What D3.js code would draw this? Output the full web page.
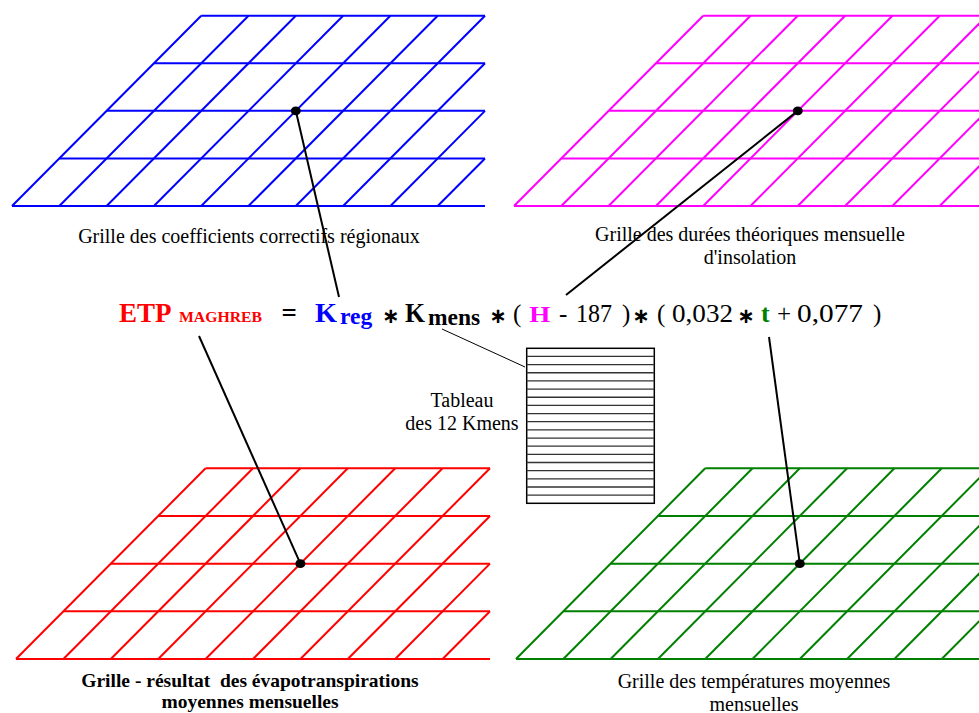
<!DOCTYPE html>
<html><head><meta charset="utf-8">
<script src="https://cdn.jsdelivr.net/npm/d3@7"></script>
<style>html,body{margin:0;padding:0;background:#fff;overflow:hidden}svg{display:block}
.serif{font-family:"Liberation Serif","Times New Roman",serif}</style>
</head><body><svg id="c" width="979" height="713"></svg>
<script>
// ---------- data ----------
const gridNames = ["Kreg", "H", "ETP", "t"];
const gridCols = 10;
const gridRows = 4;
const dotCell = [4, 2]; // column, row of the highlighted node
const captionLines = [
  ["Grille des coefficients correctifs régionaux"],
  ["Grille des durées théoriques mensuelle", "d'insolation"],
  ["Grille - résultat  des évapotranspirations", "moyennes mensuelles"],
  ["Grille des températures moyennes", "mensuelles"]
];
const formulaTokens = ["ETP","MAGHREB","=","K","reg","∗","K","mens","∗","(","H","-","187",")","∗","(","0,032","∗","t","+","0,077",")"];
const kmensRows = 19;
const tableLabel = ["Tableau", "des 12 Kmens"];

// ---------- layout / style ----------
const W = 979, H = 713;
const RED = "#ff0000", BLUE = "#0000ff", MAG = "#ff00ff", GREEN = "#008000";

const gridLayout = [
  {x0: 12,  x1: 485, yb: 206, yt: 15.7,  color: BLUE,  cap: {cx: 249, y: [242.5], size: 20, bold: false}, end: [339, 297]},
  {x0: 514, x1: 987, yb: 206, yt: 15.7,  color: MAG,   cap: {cx: 750, y: [240.7, 263.5], size: 20, bold: false}, end: [566, 295]},
  {x0: 16,  x1: 490, yb: 659, yt: 468.3, color: RED,   cap: {cx: 250, y: [686.5, 708], size: 19.5, bold: true}, end: [199, 336]},
  {x0: 516, x1: 989, yb: 659, yt: 468.3, color: GREEN, cap: {cx: 754, y: [688, 710.5], size: 20, bold: false}, end: [769, 337]}
];

const BASE = 322;
const tokStyle = [
  {x: 119,   fill: RED,  bold: true, s: 27},             // ETP
  {x: 179,   fill: RED,  bold: true, s: 14.5, len: 83},  // MAGHREB
  {x: 281.5, bold: true, s: 27},                         // =
  {x: 315,   fill: BLUE, bold: true, s: 26.5, len: 22},  // K
  {x: 340,   fill: BLUE, bold: true, s: 23.5, dy: 2},    // reg
  {ast: true, x: 390.7},
  {x: 405,   bold: true, s: 26.5, len: 20},              // K
  {x: 428,   bold: true, s: 23.5, dy: 3},                // mens
  {ast: true, x: 498},
  {x: 513,   s: 25},                                     // (
  {x: 529.3, fill: MAG, bold: true, s: 23, len: 21},     // H
  {x: 559,   s: 25},                                     // -
  {x: 576,   s: 25, len: 36},                            // 187
  {x: 622,   s: 25},                                     // )
  {ast: true, x: 641},
  {x: 657,   s: 25},                                     // (
  {x: 672,   s: 25, len: 61},                            // 0,032
  {ast: true, x: 746},
  {x: 761,   fill: GREEN, bold: true, s: 26},            // t
  {x: 777,   s: 25},                                     // +
  {x: 797,   s: 25, len: 66},                            // 0,077
  {x: 873,   s: 25}                                      // )
];

const svg = d3.select("#c");
svg.append("rect").attr("width", W).attr("height", H).attr("fill", "#fff");

// ---------- grids ----------
gridNames.forEach((name, gi) => {
  const L = gridLayout[gi];
  const x = d3.scaleLinear().domain([0, gridCols]).range([L.x0, L.x1]);
  const y = d3.scaleLinear().domain([0, gridRows]).range([L.yb, L.yt]);
  const g = svg.append("g").attr("class", "grid-" + name);
  const rows = d3.range(gridRows + 1);
  g.selectAll("line.h").data(rows).join("line").attr("class", "h")
    .attr("x1", r => x(r)).attr("x2", x(gridCols))
    .attr("y1", r => y(r)).attr("y2", r => y(r))
    .attr("stroke", L.color).attr("stroke-width", 2);
  const cols = d3.range(gridCols);
  g.selectAll("line.d").data(cols).join("line").attr("class", "d")
    .attr("x1", c => x(c)).attr("y1", y(0))
    .attr("x2", c => x(Math.min(c + gridRows, gridCols)))
    .attr("y2", c => y(Math.min(gridRows, gridCols - c)))
    .attr("stroke", L.color).attr("stroke-width", 2);
  const dx = x(dotCell[0] + dotCell[1]), dy = y(dotCell[1]);
  svg.append("line").attr("x1", dx).attr("y1", dy).attr("x2", L.end[0]).attr("y2", L.end[1])
    .attr("stroke", "#000").attr("stroke-width", 2);
  svg.append("ellipse").attr("cx", dx).attr("cy", dy).attr("rx", 5).attr("ry", 4.3).attr("fill", "#000");
  const C = L.cap;
  captionLines[gi].forEach((t, li) => {
    svg.append("text").attr("class", "serif").attr("x", C.cx).attr("y", C.y[li])
      .attr("text-anchor", "middle")
      .style("font-size", C.size + "px")
      .style("font-weight", C.bold ? "bold" : "normal")
      .style("white-space", "pre")
      .attr("fill", "#000").text(t);
  });
});

// ---------- Kmens table ----------
const tx = d3.scaleLinear().domain([0, 1]).range([526.7, 654.3]);
const ty = d3.scaleLinear().domain([0, kmensRows]).range([348.3, 503.3]);
svg.append("line").attr("x1", 442).attr("y1", 329).attr("x2", 525).attr("y2", 367)
  .attr("stroke", "#000").attr("stroke-width", 1);
svg.append("rect").attr("x", tx(0)).attr("y", ty(0)).attr("width", tx(1) - tx(0)).attr("height", ty(kmensRows) - ty(0))
  .attr("fill", "#fff").attr("stroke", "#000").attr("stroke-width", 1.5);
svg.selectAll("line.krow").data(d3.range(1, kmensRows)).join("line").attr("class", "krow")
  .attr("x1", tx(0)).attr("x2", tx(1)).attr("y1", r => ty(r)).attr("y2", r => ty(r))
  .attr("stroke", "#333").attr("stroke-width", 1.3);
tableLabel.forEach((t, i) => {
  svg.append("text").attr("class", "serif").attr("x", 462).attr("y", [406.5, 430][i]).attr("text-anchor", "middle")
    .style("font-size", "20px")
    .attr("fill", "#000").text(t);
});

// ---------- formula ----------
formulaTokens.forEach((t, i) => {
  const s = tokStyle[i];
  if (s.ast) {
    svg.append("text").attr("x", s.x).attr("y", BASE + 1).attr("text-anchor", "middle")
      .style("font-family", "'DejaVu Sans',sans-serif").style("font-size", "21px").style("font-weight", "bold")
      .attr("fill", "#000").text(t);
    return;
  }
  const el = svg.append("text").attr("class", "serif").attr("x", s.x).attr("y", BASE + (s.dy || 0))
    .style("font-size", s.s + "px")
    .style("font-weight", s.bold ? "bold" : "normal")
    .attr("fill", s.fill || "#000").text(t);
  if (s.len) el.attr("textLength", s.len).attr("lengthAdjust", "spacingAndGlyphs");
});
</script>
</body></html>
